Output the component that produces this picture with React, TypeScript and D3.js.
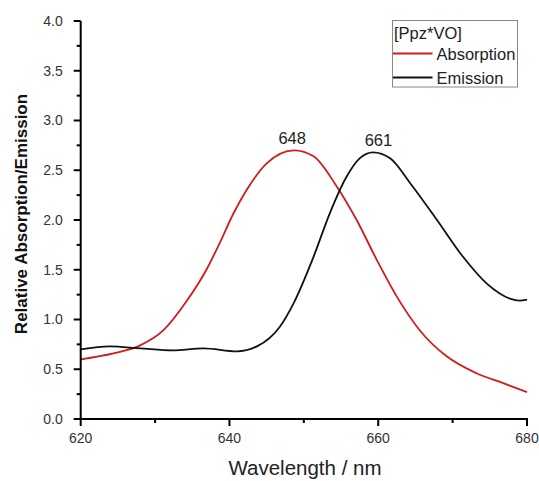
import React from "react";
import * as d3 from "d3";

const absWavelength = [620, 624.4, 628.0, 631.1, 634.2, 636.9, 638.7, 640.5, 642.8, 645.0, 648.7, 651.3, 654.4, 657.1, 659.8, 662.5, 665.6, 669.2, 673.2, 676.8, 680];
const absValue = [0.6, 0.66, 0.74, 0.89, 1.18, 1.5, 1.77, 2.06, 2.36, 2.57, 2.7, 2.64, 2.34, 2.0, 1.6, 1.23, 0.89, 0.63, 0.46, 0.36, 0.27];

const emWavelength = [620, 623.9, 628, 632.4, 636.5, 641, 643.7, 646.8, 648.6, 651.3, 653.5, 655.7, 657.5, 659.3, 661.6, 664.3, 667.9, 671.4, 674.6, 677.7, 679, 680];
const emValue = [0.7, 0.73, 0.71, 0.69, 0.71, 0.68, 0.73, 0.93, 1.16, 1.63, 2.07, 2.43, 2.62, 2.68, 2.62, 2.37, 2.0, 1.63, 1.36, 1.21, 1.19, 1.2];

const xMajorTicks = [620, 640, 660, 680];
const xMinorTicks = [630, 650, 670];
const yMajorTicks = [0, 0.5, 1, 1.5, 2, 2.5, 3, 3.5, 4];
const yMinorTicks = [0.25, 0.75, 1.25, 1.75, 2.25, 2.75, 3.25, 3.75];

const peakLabels = [
  { x: 648.7, y: 2.7, text: "648" },
  { x: 660.3, y: 2.68, text: "661" },
];

const legendTitle = "[Ppz*VO]";
const seriesNames = ["Absorption", "Emission"];
const seriesColors = ["#d01c1c", "#111111"];

export default function App() {
  const W = 539, H = 481;
  const x = d3.scaleLinear().domain([620, 680]).range([80.7, 527]);
  const y = d3.scaleLinear().domain([0, 4]).range([419, 21]);
  const font = "'Liberation Sans', Arial, sans-serif";

  const line = d3
    .line<[number, number]>()
    .x((d) => x(d[0]))
    .y((d) => y(d[1]))
    .curve(d3.curveMonotoneX);

  const absData = absWavelength.map((w, i) => [w, absValue[i]] as [number, number]);
  const emData = emWavelength.map((w, i) => [w, emValue[i]] as [number, number]);

  const axisColor = "#000";
  const tickColor = "#333";

  return (
    <svg width={W} height={H} style={{ position: "absolute", left: 0, top: 0, background: "#fff" }} fontFamily={font}>
      <rect width={W} height={H} fill="#fff" />
      {/* curves */}
      <path d={line(absData) || ""} fill="none" stroke={seriesColors[0]} strokeWidth={1.8} />
      <path d={line(emData) || ""} fill="none" stroke={seriesColors[1]} strokeWidth={1.8} />

      {/* axes */}
      <line x1={x(620)} x2={x(620)} y1={y(4)} y2={y(0) + 1} stroke={axisColor} strokeWidth={2} />
      <line x1={x(620) - 1} x2={x(680) + 1} y1={y(0)} y2={y(0)} stroke={axisColor} strokeWidth={2} />

      {yMajorTicks.map((t) => (
        <g key={"ym" + t}>
          <line x1={x(620) - 7} x2={x(620)} y1={y(t)} y2={y(t)} stroke={axisColor} strokeWidth={2} />
          <text x={x(620) - 18} y={y(t)} dy="0.35em" textAnchor="end" fontSize={14} fill={tickColor}>
            {t.toFixed(1)}
          </text>
        </g>
      ))}
      {yMinorTicks.map((t) => (
        <line key={"yn" + t} x1={x(620) - 4} x2={x(620)} y1={y(t)} y2={y(t)} stroke={axisColor} strokeWidth={2} />
      ))}
      {xMajorTicks.map((t) => (
        <g key={"xm" + t}>
          <line x1={x(t)} x2={x(t)} y1={y(0)} y2={y(0) + 7} stroke={axisColor} strokeWidth={2} />
          <text x={x(t)} y={y(0) + 24} textAnchor="middle" fontSize={14} fill={tickColor}>
            {t}
          </text>
        </g>
      ))}
      {xMinorTicks.map((t) => (
        <line key={"xn" + t} x1={x(t)} x2={x(t)} y1={y(0)} y2={y(0) + 4} stroke={axisColor} strokeWidth={2} />
      ))}

      {/* axis titles */}
      <text x={305} y={475} textAnchor="middle" fontSize={20.5} fill="#222">
        Wavelength / nm
      </text>
      <text
        transform={`translate(27,214) rotate(-90)`}
        textAnchor="middle"
        fontSize={17}
        fontWeight="bold"
        fill="#111"
      >
        Relative Absorption/Emission
      </text>

      {/* peak labels */}
      {peakLabels.map((p) => (
        <text key={p.text} x={x(p.x) - 2} y={y(p.y) - 6} textAnchor="middle" fontSize={16.5} fill="#222">
          {p.text}
        </text>
      ))}

      {/* legend */}
      <rect x={392.5} y={20.5} width={125} height={66.5} fill="#fff" stroke="#888" strokeWidth={1} />
      <text x={394} y={38.5} fontSize={16.5} fill="#222">
        {legendTitle}
      </text>
      {seriesNames.map((n, i) => (
        <g key={n}>
          <line x1={393} x2={432.5} y1={53.5 + i * 24} y2={53.5 + i * 24} stroke={seriesColors[i]} strokeWidth={1.8} />
          <text x={436.5} y={59.5 + i * 24} fontSize={16.5} fill="#222">
            {n}
          </text>
        </g>
      ))}
    </svg>
  );
}
